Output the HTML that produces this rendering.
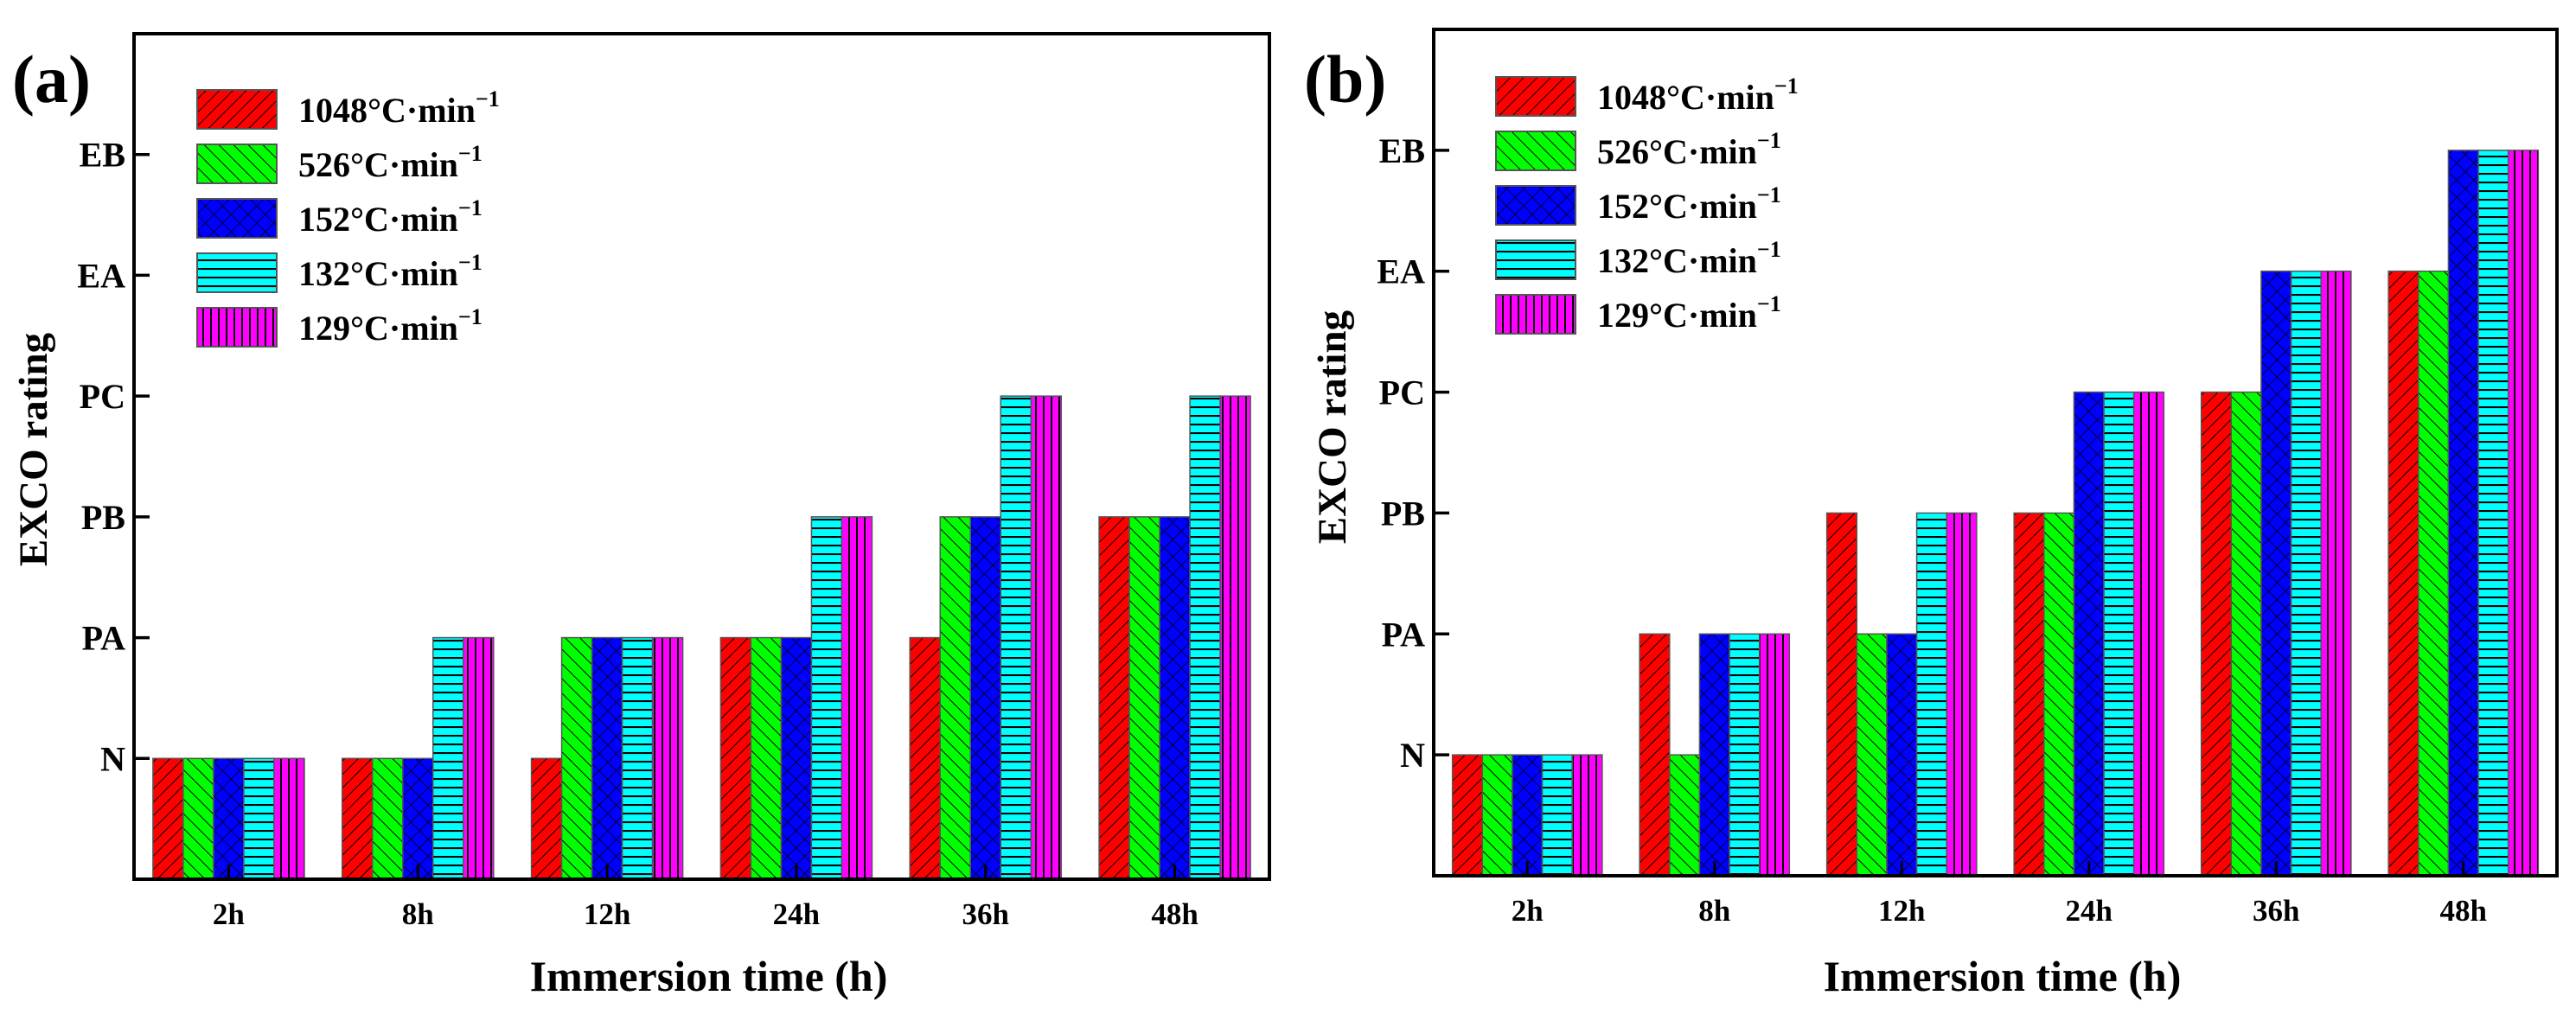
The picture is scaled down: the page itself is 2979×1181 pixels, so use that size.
<!DOCTYPE html>
<html><head><meta charset="utf-8">
<style>
html,body{margin:0;padding:0;background:#fff;}
svg{display:block;font-family:"Liberation Serif","DejaVu Serif",serif;font-weight:bold;}
</style></head>
<body>
<svg id="fig" width="2979" height="1181" viewBox="0 0 2979 1181" xmlns="http://www.w3.org/2000/svg">
<defs>
<pattern id="p0" patternUnits="userSpaceOnUse" width="11" height="11" patternTransform="rotate(45)"><rect width="11" height="11" fill="#ff0000"/><line x1="0" y1="0" x2="0" y2="11" stroke="#000" stroke-width="2"/></pattern>
<pattern id="p1" patternUnits="userSpaceOnUse" width="12" height="12" patternTransform="rotate(-45)"><rect width="12" height="12" fill="#00ff00"/><line x1="0" y1="0" x2="0" y2="12" stroke="#000" stroke-width="2"/></pattern>
<pattern id="p2" patternUnits="userSpaceOnUse" width="14" height="14" patternTransform="rotate(45)"><rect width="14" height="14" fill="#0000ff"/><line x1="0" y1="0" x2="0" y2="14" stroke="#000" stroke-width="1.6"/><line x1="0" y1="0" x2="14" y2="0" stroke="#000" stroke-width="1.6"/></pattern>
<pattern id="p3" patternUnits="userSpaceOnUse" width="10" height="10"><rect width="10" height="10" fill="#00ffff"/><line x1="0" y1="1" x2="10" y2="1" stroke="#000" stroke-width="2.2"/></pattern>
<pattern id="p4" patternUnits="userSpaceOnUse" width="9" height="10"><rect width="9" height="10" fill="#ff00ff"/><line x1="1" y1="0" x2="1" y2="10" stroke="#000" stroke-width="2"/></pattern>
</defs>
</svg>
<script>
const categories = ["2h","8h","12h","24h","36h","48h"];
const yLabels = ["N","PA","PB","PC","EA","EB"];
const seriesNames = ["1048","526","152","132","129"];
const panelA_s1048 = [1,1,1,2,2,3];
const panelA_s526  = [1,1,2,2,3,3];
const panelA_s152  = [1,1,2,2,3,3];
const panelA_s132  = [1,2,2,3,4,4];
const panelA_s129  = [1,2,2,3,4,4];
const panelB_s1048 = [1,2,3,3,4,5];
const panelB_s526  = [1,1,2,3,4,5];
const panelB_s152  = [1,2,2,4,5,6];
const panelB_s132  = [1,2,3,4,5,6];
const panelB_s129  = [1,2,3,4,5,6];

const NS = "http://www.w3.org/2000/svg";
const svg = document.getElementById('fig');
function mk(tag, attrs, parent){
  const e = document.createElementNS(NS, tag);
  for (const k in attrs) e.setAttribute(k, attrs[k]);
  (parent||svg).appendChild(e);
  return e;
}

function drawPanel(cfg){
  const g = mk('g', {});
  
  
  const L=cfg.left, R=cfg.right, T=cfg.top, B=cfg.bottom;
  const yMax = 7;
  const yS = v => B - v*(B-T)/yMax;
  const band = (R-L)/categories.length;
  const xC = i => L + band*(i+0.5);
  const bw = band*0.8/5;
  // bars
  cfg.series.forEach((vals, s) => {
    vals.forEach((v, i) => {
      const x = xC(i) - band*0.4 + s*bw;
      const r = mk('rect', {x:x, y:yS(v), width:bw, height:B-yS(v), fill:'url(#p'+s+')', stroke:'#555', 'stroke-width':1.5}, g);
      
      
    });
  });
  // frame
  const f = mk('rect', {x:L, y:T, width:R-L, height:B-T, fill:'none', stroke:'#000', 'stroke-width':4}, g);
  
  
  // y ticks
  yLabels.forEach((lab, k) => {
    const y = yS(k+1);
    mk('line', {x1:L, x2:L+18, y1:y, y2:y, stroke:'#000', 'stroke-width':3.5}, g);
    const t = mk('text', {x:L-10, y:y+14, 'text-anchor':'end', 'font-size':40}, g);
    t.textContent = lab;
    
    
  });
  // x ticks
  categories.forEach((c, i) => {
    const x = xC(i);
    mk('line', {x1:x, x2:x, y1:B, y2:B-17, stroke:'#000', 'stroke-width':3}, g);
    const t = mk('text', {x:x, y:cfg.xLabY, 'text-anchor':'middle', 'font-size':35}, g);
    t.textContent = c;
    
    
  });
  // axis titles
  const xt = mk('text', {x:(L+R)/2+8, y:1146, 'text-anchor':'middle', 'font-size':50}, g);
  xt.textContent = 'Immersion time (h)';
  
  
  const yt = mk('text', {x:0, y:0, 'text-anchor':'middle', 'font-size':47, transform:'translate('+(cfg.yTitleX)+','+cfg.yTitleY+') rotate(-90)'}, g);
  yt.textContent = 'EXCO rating';
  
  
  // panel label
  const pl = mk('text', {x:cfg.labX, y:118, 'font-size':78}, g);
  pl.textContent = cfg.label;
  
  
  // legend
  seriesNames.forEach((n, s) => {
    const y = cfg.legY + s*63;
    const lg = mk('g', {}, g);
    
    
    mk('rect', {x:cfg.legX, y:y, width:92, height:45, fill:'url(#p'+s+')', stroke:'#555', 'stroke-width':2}, lg);
    const t = mk('text', {x:cfg.legX+117, y:y+37, 'font-size':40}, lg);
    t.textContent = n + '°C·min';
    const sup = mk('tspan', {dy:-18, 'font-size':26}, t);
    sup.textContent = '−1';
  });
}

drawPanel({id:'panel-a', left:155, right:1468, top:39, bottom:1017, xLabY:1069, yTitleX:54, yTitleY:520, labX:14, label:'(a)', legX:228, legY:104,
  series:[panelA_s1048,panelA_s526,panelA_s152,panelA_s132,panelA_s129]});
drawPanel({id:'panel-b', left:1658, right:2957, top:34, bottom:1013, xLabY:1065, yTitleX:1556, yTitleY:494, labX:1508, label:'(b)', legX:1730, legY:89,
  series:[panelB_s1048,panelB_s526,panelB_s152,panelB_s132,panelB_s129]});
</script>
</body></html>
